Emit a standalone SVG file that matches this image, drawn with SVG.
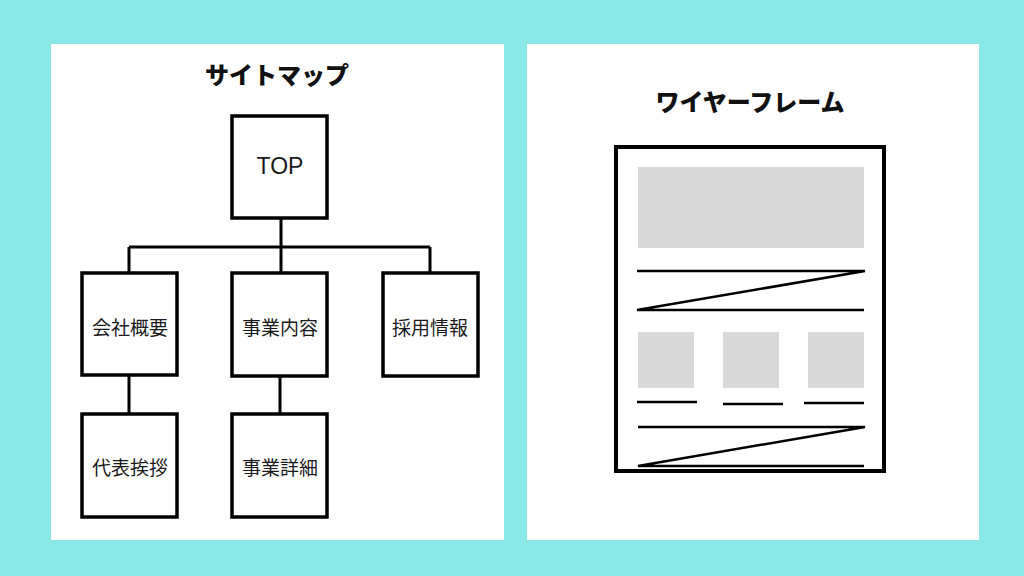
<svg xmlns="http://www.w3.org/2000/svg" width="1024" height="576" viewBox="0 0 1024 576">
<style>
.box{fill:#fff;stroke:#000;stroke-width:3.5}
.lbl{font-family:"Noto Sans CJK JP","Noto Sans",sans-serif;font-size:19px;fill:#1a1a1a;text-anchor:middle;dominant-baseline:central}
.title{font-family:"Noto Sans CJK JP",sans-serif;font-size:24px;font-weight:900;fill:#111;text-anchor:middle;dominant-baseline:central}
.conn{stroke:#000;stroke-width:3;fill:none}
.wl{stroke:#000;stroke-width:2.5;fill:none}
.gray{fill:#d9d9d9}
</style>
<rect width="1024" height="576" fill="#8ae8e8"/>
<rect x="51" y="44" width="453" height="496" fill="#fff"/>
<rect x="527" y="44" width="452" height="496" fill="#fff"/>
<text class="title" x="277" y="73">サイトマップ</text>
<g id="connectors">
<path class="conn" d="M281 218V247M129 247H430M129 247V273M281 247V273M430 247V273M129 375V414M280 376V414"/>
</g>
<g id="top"><rect class="box" x="232" y="116" width="95" height="102"/><text class="lbl" x="280" y="166" style="font-family:'Liberation Sans',sans-serif;font-size:23px">TOP</text></g>
<g id="kaisha"><rect class="box" x="82" y="273" width="95" height="102"/><text class="lbl" x="130" y="326">会社概要</text></g>
<g id="jigyo"><rect class="box" x="232" y="273" width="95" height="103"/><text class="lbl" x="280" y="326">事業内容</text></g>
<g id="saiyo"><rect class="box" x="383" y="273" width="95" height="103"/><text class="lbl" x="430" y="326">採用情報</text></g>
<g id="daihyo"><rect class="box" x="82" y="414" width="95" height="103"/><text class="lbl" x="130" y="466">代表挨拶</text></g>
<g id="shosai"><rect class="box" x="232" y="414" width="95" height="103"/><text class="lbl" x="280" y="466">事業詳細</text></g>
<text class="title" x="750" y="100">ワイヤーフレーム</text>
<g id="wireframe">
<rect x="616" y="147" width="268" height="324" fill="#fff" stroke="#000" stroke-width="4"/>
<rect class="gray" x="638" y="167" width="226" height="81"/>
<path class="wl" d="M637 271H865L637 310H864"/>
<rect class="gray" x="638" y="332" width="56" height="56"/>
<rect class="gray" x="723" y="332" width="56" height="56"/>
<rect class="gray" x="808" y="332" width="56" height="56"/>
<path class="wl" d="M637 402H697M723 404H783M804 403H864"/>
<path class="wl" d="M638 427H865L638 466H864"/>
</g>
</svg>
